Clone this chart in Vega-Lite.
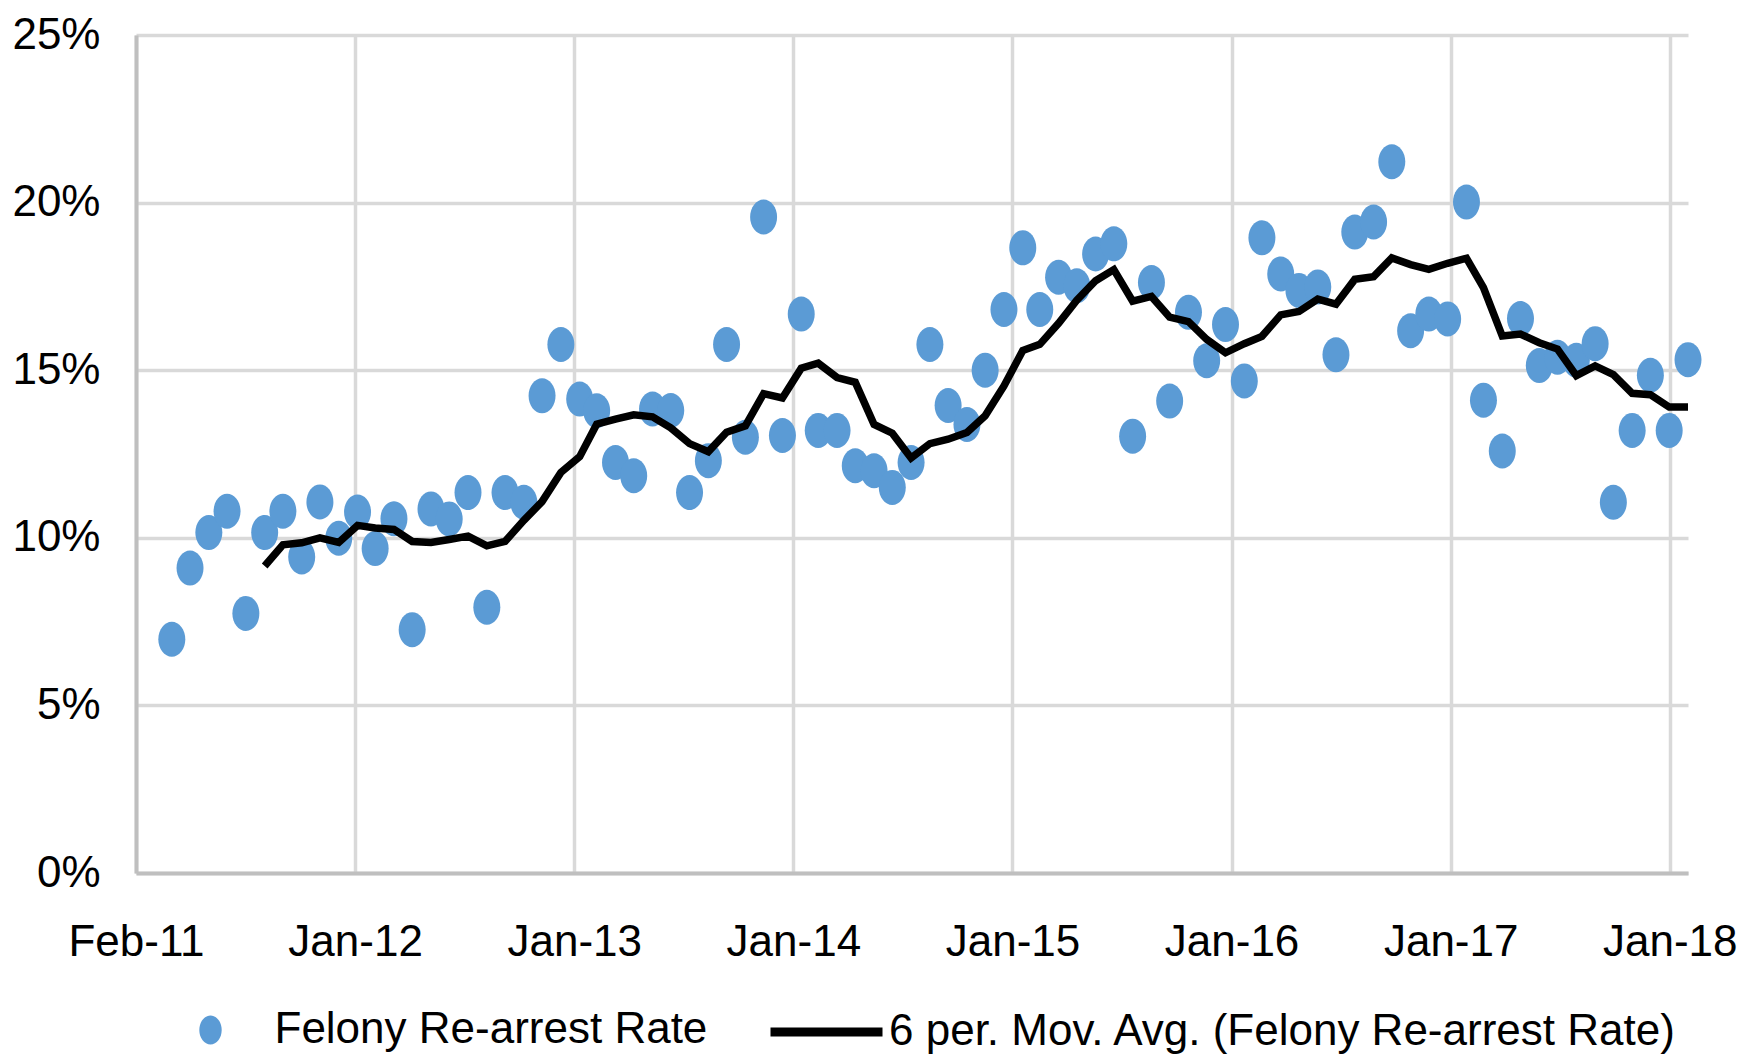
{
  "$schema": "https://vega.github.io/schema/vega-lite/v6.json",
  "width": 1552,
  "height": 838,
  "autosize": {"type": "none"},
  "padding": {"left": 136, "top": 35, "right": 71, "bottom": 186},
  "background": "white",
  "config": {
    "view": {"stroke": null},
    "font": "Liberation Sans",
    "axis": {
      "labelFont": "Liberation Sans",
      "labelFontSize": 44,
      "labelColor": "#000000",
      "ticks": false,
      "domainColor": "#bfbfbf",
      "domainWidth": 4,
      "gridColor": "#d9d9d9",
      "gridWidth": 3.5,
      "title": null
    },
    "legend": {
      "labelFont": "Liberation Sans",
      "labelFontSize": 44,
      "labelColor": "#000000",
      "labelLimit": 2000,
      "padding": 0,
      "title": null
    }
  },
  "data": {
    "values": [
      {"date": "2011-04-01", "rate": 0.0697},
      {"date": "2011-05-01", "rate": 0.0910},
      {"date": "2011-06-01", "rate": 0.1016},
      {"date": "2011-07-01", "rate": 0.1079},
      {"date": "2011-08-01", "rate": 0.0774},
      {"date": "2011-09-01", "rate": 0.1016, "ma": 0.0916},
      {"date": "2011-10-01", "rate": 0.1079, "ma": 0.0979},
      {"date": "2011-11-01", "rate": 0.0943, "ma": 0.0985},
      {"date": "2011-12-01", "rate": 0.1107, "ma": 0.1000},
      {"date": "2012-01-01", "rate": 0.0999, "ma": 0.0986},
      {"date": "2012-02-01", "rate": 0.1077, "ma": 0.1037},
      {"date": "2012-03-01", "rate": 0.0968, "ma": 0.1029},
      {"date": "2012-04-01", "rate": 0.1057, "ma": 0.1025},
      {"date": "2012-05-01", "rate": 0.0726, "ma": 0.0989},
      {"date": "2012-06-01", "rate": 0.1086, "ma": 0.0986},
      {"date": "2012-07-01", "rate": 0.1056, "ma": 0.0995},
      {"date": "2012-08-01", "rate": 0.1135, "ma": 0.1005},
      {"date": "2012-09-01", "rate": 0.0793, "ma": 0.0976},
      {"date": "2012-10-01", "rate": 0.1135, "ma": 0.0989},
      {"date": "2012-11-01", "rate": 0.1106, "ma": 0.1052},
      {"date": "2012-12-01", "rate": 0.1424, "ma": 0.1108},
      {"date": "2013-01-01", "rate": 0.1577, "ma": 0.1195},
      {"date": "2013-02-01", "rate": 0.1414, "ma": 0.1242},
      {"date": "2013-03-01", "rate": 0.1379, "ma": 0.1339},
      {"date": "2013-04-01", "rate": 0.1225, "ma": 0.1354},
      {"date": "2013-05-01", "rate": 0.1185, "ma": 0.1367},
      {"date": "2013-06-01", "rate": 0.1384, "ma": 0.1361},
      {"date": "2013-07-01", "rate": 0.1380, "ma": 0.1328},
      {"date": "2013-08-01", "rate": 0.1135, "ma": 0.1281},
      {"date": "2013-09-01", "rate": 0.1230, "ma": 0.1257},
      {"date": "2013-10-01", "rate": 0.1577, "ma": 0.1315},
      {"date": "2013-11-01", "rate": 0.1300, "ma": 0.1334},
      {"date": "2013-12-01", "rate": 0.1957, "ma": 0.1430},
      {"date": "2014-01-01", "rate": 0.1305, "ma": 0.1417},
      {"date": "2014-02-01", "rate": 0.1668, "ma": 0.1506},
      {"date": "2014-03-01", "rate": 0.1320, "ma": 0.1521},
      {"date": "2014-04-01", "rate": 0.1320, "ma": 0.1478},
      {"date": "2014-05-01", "rate": 0.1215, "ma": 0.1464},
      {"date": "2014-06-01", "rate": 0.1200, "ma": 0.1338},
      {"date": "2014-07-01", "rate": 0.1150, "ma": 0.1312},
      {"date": "2014-08-01", "rate": 0.1225, "ma": 0.1238},
      {"date": "2014-09-01", "rate": 0.1577, "ma": 0.1281},
      {"date": "2014-10-01", "rate": 0.1395, "ma": 0.1294},
      {"date": "2014-11-01", "rate": 0.1338, "ma": 0.1314},
      {"date": "2014-12-01", "rate": 0.1500, "ma": 0.1364},
      {"date": "2015-01-01", "rate": 0.1681, "ma": 0.1453},
      {"date": "2015-02-01", "rate": 0.1865, "ma": 0.1559},
      {"date": "2015-03-01", "rate": 0.1681, "ma": 0.1577},
      {"date": "2015-04-01", "rate": 0.1777, "ma": 0.1640},
      {"date": "2015-05-01", "rate": 0.1752, "ma": 0.1709},
      {"date": "2015-06-01", "rate": 0.1847, "ma": 0.1767},
      {"date": "2015-07-01", "rate": 0.1877, "ma": 0.1800},
      {"date": "2015-08-01", "rate": 0.1303, "ma": 0.1706},
      {"date": "2015-09-01", "rate": 0.1762, "ma": 0.1720},
      {"date": "2015-10-01", "rate": 0.1408, "ma": 0.1658},
      {"date": "2015-11-01", "rate": 0.1673, "ma": 0.1645},
      {"date": "2015-12-01", "rate": 0.1528, "ma": 0.1592},
      {"date": "2016-01-01", "rate": 0.1636, "ma": 0.1552},
      {"date": "2016-02-01", "rate": 0.1468, "ma": 0.1579},
      {"date": "2016-03-01", "rate": 0.1895, "ma": 0.1601},
      {"date": "2016-04-01", "rate": 0.1787, "ma": 0.1665},
      {"date": "2016-05-01", "rate": 0.1738, "ma": 0.1675},
      {"date": "2016-06-01", "rate": 0.1748, "ma": 0.1712},
      {"date": "2016-07-01", "rate": 0.1546, "ma": 0.1697},
      {"date": "2016-08-01", "rate": 0.1912, "ma": 0.1771},
      {"date": "2016-09-01", "rate": 0.1942, "ma": 0.1779},
      {"date": "2016-10-01", "rate": 0.2122, "ma": 0.1835},
      {"date": "2016-11-01", "rate": 0.1618, "ma": 0.1815},
      {"date": "2016-12-01", "rate": 0.1668, "ma": 0.1801},
      {"date": "2017-01-01", "rate": 0.1653, "ma": 0.1819},
      {"date": "2017-02-01", "rate": 0.2002, "ma": 0.1834},
      {"date": "2017-03-01", "rate": 0.1410, "ma": 0.1746},
      {"date": "2017-04-01", "rate": 0.1259, "ma": 0.1602},
      {"date": "2017-05-01", "rate": 0.1654, "ma": 0.1608},
      {"date": "2017-06-01", "rate": 0.1514, "ma": 0.1582},
      {"date": "2017-07-01", "rate": 0.1539, "ma": 0.1563},
      {"date": "2017-08-01", "rate": 0.1530, "ma": 0.1484},
      {"date": "2017-09-01", "rate": 0.1579, "ma": 0.1513},
      {"date": "2017-10-01", "rate": 0.1106, "ma": 0.1487},
      {"date": "2017-11-01", "rate": 0.1320, "ma": 0.1431},
      {"date": "2017-12-01", "rate": 0.1485, "ma": 0.1427},
      {"date": "2018-01-01", "rate": 0.1320, "ma": 0.1390},
      {"date": "2018-02-01", "rate": 0.1531, "ma": 0.1390}
    ]
  },
  "layer": [
    {
      "mark": {
        "type": "point",
        "filled": true,
        "opacity": 1,
        "shape": "M-0.771,0A0.771,1,0,1,0,0.771,0A0.771,1,0,1,0,-0.771,0Z",
        "size": 1225
      },
      "encoding": {
        "x": {
          "field": "date",
          "type": "temporal",
          "scale": {
            "type": "utc",
            "domain": [
              {"year": 2011, "month": 2, "date": 1, "utc": true},
              {"year": 2018, "month": 2, "date": 1, "utc": true}
            ]
          },
          "axis": {
            "orient": "bottom",
            "grid": true,
            "values": [
              {"year": 2011, "month": 2, "date": 1, "utc": true},
              {"year": 2012, "month": 1, "date": 28, "utc": true},
              {"year": 2013, "month": 1, "date": 23, "utc": true},
              {"year": 2014, "month": 1, "date": 19, "utc": true},
              {"year": 2015, "month": 1, "date": 15, "utc": true},
              {"year": 2016, "month": 1, "date": 11, "utc": true},
              {"year": 2017, "month": 1, "date": 6, "utc": true},
              {"year": 2018, "month": 1, "date": 2, "utc": true}
            ],
            "labelExpr": "utcFormat(datum.value, '%b-%y')",
            "labelPadding": 47,
            "labelFlush": false,
            "labelOverlap": false
          }
        },
        "y": {
          "field": "rate",
          "type": "quantitative",
          "scale": {"domain": [0, 0.25], "nice": false},
          "axis": {
            "orient": "left",
            "grid": true,
            "values": [0, 0.05, 0.1, 0.15, 0.2, 0.25],
            "format": ".0%",
            "labelPadding": 36
          }
        },
        "color": {
          "datum": "Felony Re-arrest Rate",
          "scale": {"range": ["#5b9bd5"]},
          "legend": {
            "orient": "none",
            "legendX": 52.5,
            "legendY": 973,
            "symbolType": "M-0.771,0A0.771,1,0,1,0,0.771,0A0.771,1,0,1,0,-0.771,0Z",
            "symbolSize": 841,
            "symbolStrokeWidth": 0,
            "symbolOpacity": 1,
            "labelOffset": 42
          }
        }
      }
    },
    {
      "transform": [{"filter": "isValid(datum.ma)"}],
      "mark": {"type": "line", "strokeWidth": 7.5},
      "encoding": {
        "x": {"field": "date", "type": "temporal"},
        "y": {"field": "ma", "type": "quantitative"},
        "stroke": {
          "datum": "6 per. Mov. Avg. (Felony Re-arrest Rate)",
          "scale": {"range": ["#000000"]},
          "legend": {
            "orient": "none",
            "legendX": 630,
            "legendY": 936.5,
            "symbolType": "stroke",
            "symbolSize": 12544,
            "symbolStrokeWidth": 9,
            "symbolStrokeColor": "#000000",
            "labelOffset": 2
          }
        }
      }
    }
  ]
}
